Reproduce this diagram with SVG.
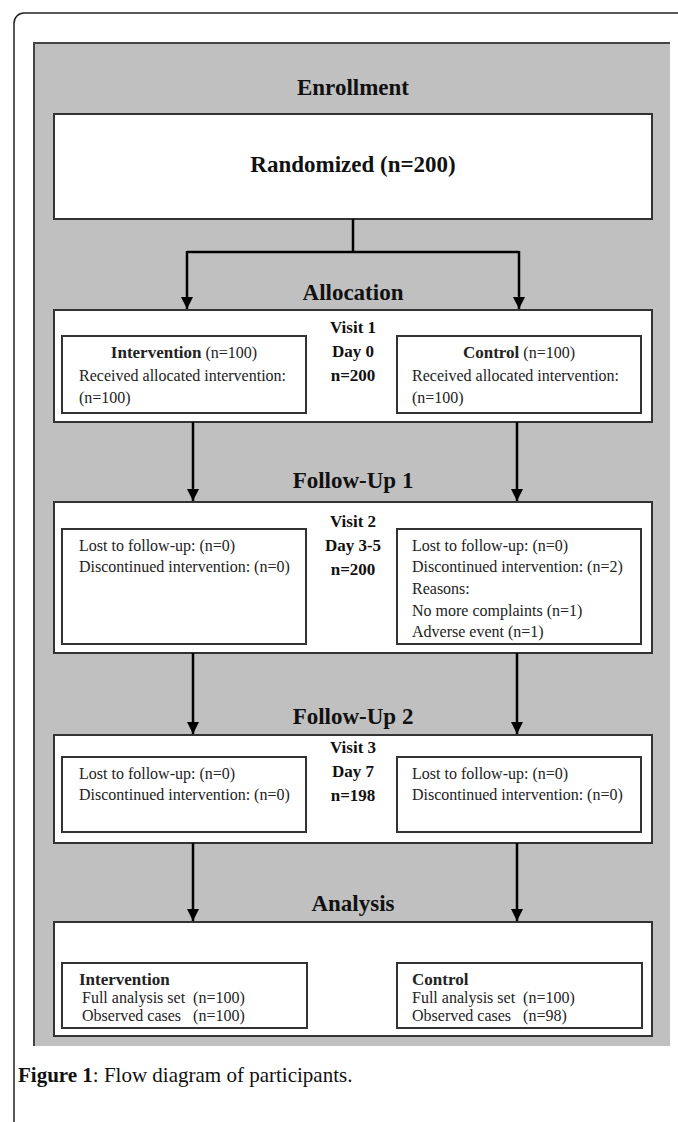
<svg xmlns="http://www.w3.org/2000/svg" width="678" height="1122" viewBox="0 0 678 1122">
<style>
.hd{font-family:"Liberation Serif",serif;font-weight:bold;font-size:23px;fill:#111;text-anchor:middle}
.vb{font-family:"Liberation Serif",serif;font-weight:bold;font-size:17px;fill:#111;text-anchor:middle}
.t{font-family:"Liberation Serif",serif;font-size:16px;fill:#222;white-space:pre}
.b{font-weight:bold;font-size:17px}
.box{fill:#fff;stroke:#333;stroke-width:2}
.ln{fill:none;stroke:#000;stroke-width:2.5}
</style>
<defs>
<marker id="ah" viewBox="0 0 10 10" refX="10" refY="5" markerWidth="5" markerHeight="5" markerUnits="strokeWidth" orient="auto"><path d="M0,0L10,5L0,10z" fill="#000"/></marker>
</defs>
<rect x="0" y="0" width="678" height="1122" fill="#fff"/>
<path d="M14,1122V23a10,10 0 0 1 10,-10H678" fill="none" stroke="#222" stroke-width="1.5"/>
<path d="M670,43H34V1046H670z" fill="#c0c0c0"/>
<path d="M34,1046V43H670" fill="none" stroke="#444" stroke-width="2"/>

<text class="hd" x="353" y="95">Enrollment</text>
<g id="randomized">
<rect class="box" x="54" y="114" width="598" height="105"/>
<text class="hd" x="353" y="172">Randomized (n=200)</text>
</g>

<text class="hd" x="353" y="300">Allocation</text>
<g id="allocation">
<rect class="box" x="54" y="310" width="598" height="112"/>
<text class="vb" x="353" y="333">Visit 1</text>
<text class="vb" x="353" y="357">Day 0</text>
<text class="vb" x="353" y="381">n=200</text>
</g>
<g id="alloc-intervention">
<rect class="box" x="62" y="336" width="244" height="77"/>
<text class="t" x="184" y="358" text-anchor="middle"><tspan class="b">Intervention</tspan> (n=100)</text>
<text class="t" x="79" y="381">Received allocated intervention:</text>
<text class="t" x="79" y="403">(n=100)</text>
</g>
<g id="alloc-control">
<rect class="box" x="397" y="336" width="244" height="77"/>
<text class="t" x="519" y="358" text-anchor="middle"><tspan class="b">Control</tspan> (n=100)</text>
<text class="t" x="412" y="381">Received allocated intervention:</text>
<text class="t" x="412" y="403">(n=100)</text>
</g>

<text class="hd" x="353" y="488">Follow-Up 1</text>
<g id="followup1">
<rect class="box" x="54" y="502" width="598" height="151"/>
<text class="vb" x="353" y="527">Visit 2</text>
<text class="vb" x="353" y="551">Day 3-5</text>
<text class="vb" x="353" y="575">n=200</text>
</g>
<g id="fu1-intervention">
<rect class="box" x="62" y="529" width="244" height="115"/>
<text class="t" x="79" y="551">Lost to follow-up: (n=0)</text>
<text class="t" x="79" y="572">Discontinued intervention: (n=0)</text>
</g>
<g id="fu1-control">
<rect class="box" x="397" y="529" width="244" height="115"/>
<text class="t" x="412" y="551">Lost to follow-up: (n=0)</text>
<text class="t" x="412" y="572">Discontinued intervention: (n=2)</text>
<text class="t" x="412" y="594">Reasons:</text>
<text class="t" x="412" y="616">No more complaints (n=1)</text>
<text class="t" x="412" y="637">Adverse event (n=1)</text>
</g>

<text class="hd" x="353" y="724">Follow-Up 2</text>
<g id="followup2">
<rect class="box" x="54" y="735" width="598" height="108"/>
<text class="vb" x="353" y="753">Visit 3</text>
<text class="vb" x="353" y="777">Day 7</text>
<text class="vb" x="353" y="801">n=198</text>
</g>
<g id="fu2-intervention">
<rect class="box" x="62" y="757" width="244" height="75"/>
<text class="t" x="79" y="779">Lost to follow-up: (n=0)</text>
<text class="t" x="79" y="800">Discontinued intervention: (n=0)</text>
</g>
<g id="fu2-control">
<rect class="box" x="397" y="757" width="244" height="75"/>
<text class="t" x="412" y="779">Lost to follow-up: (n=0)</text>
<text class="t" x="412" y="800">Discontinued intervention: (n=0)</text>
</g>

<text class="hd" x="353" y="911">Analysis</text>
<g id="analysis">
<rect class="box" x="54" y="922" width="598" height="114"/>
</g>
<g id="an-intervention">
<rect class="box" x="62" y="963" width="245" height="65"/>
<text class="t b" x="79" y="985">Intervention</text>
<text class="t" x="82" y="1003">Full analysis set  (n=100)</text>
<text class="t" x="82" y="1021">Observed cases   (n=100)</text>
</g>
<g id="an-control">
<rect class="box" x="397" y="963" width="245" height="65"/>
<text class="t b" x="412" y="985">Control</text>
<text class="t" x="412" y="1003">Full analysis set  (n=100)</text>
<text class="t" x="412" y="1021">Observed cases   (n=98)</text>
</g>

<g id="connectors">
<path class="ln" d="M353,219V252M187,252H519"/>
<path class="ln" d="M187,251V309" marker-end="url(#ah)"/>
<path class="ln" d="M519,251V309" marker-end="url(#ah)"/>
<path class="ln" d="M193,422V501" marker-end="url(#ah)"/>
<path class="ln" d="M517,422V501" marker-end="url(#ah)"/>
<path class="ln" d="M193,653V734" marker-end="url(#ah)"/>
<path class="ln" d="M517,653V734" marker-end="url(#ah)"/>
<path class="ln" d="M193,843V921" marker-end="url(#ah)"/>
<path class="ln" d="M517,843V921" marker-end="url(#ah)"/>
</g>

<text x="18" y="1082" font-family="'Liberation Serif',serif" font-size="21" fill="#111"><tspan font-weight="bold">Figure 1</tspan>: Flow diagram of participants.</text>
</svg>
